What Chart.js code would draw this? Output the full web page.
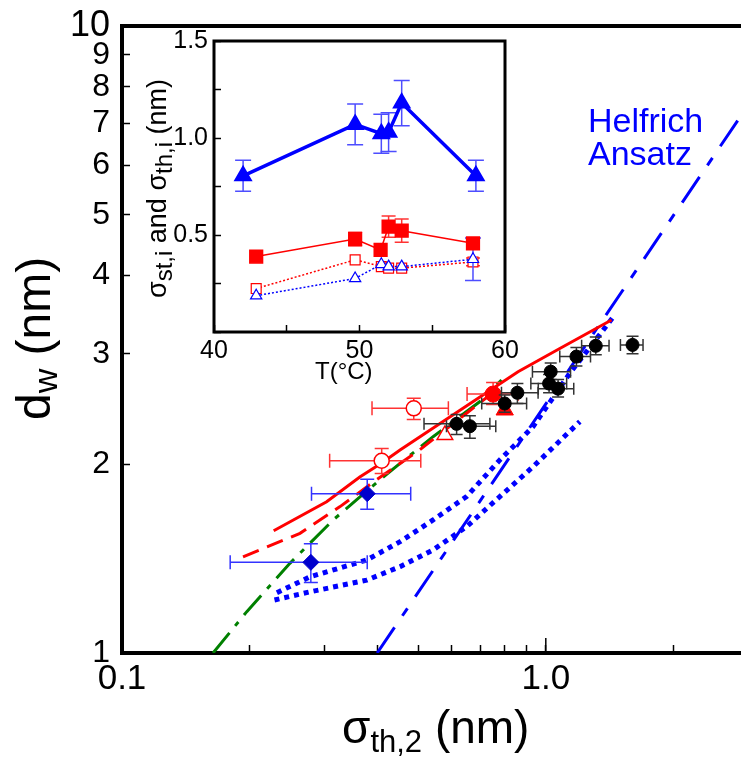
<!DOCTYPE html>
<html>
<head>
<meta charset="utf-8">
<script src="https://cdn.jsdelivr.net/npm/chart.js@4"></script>
<style>
body { margin:0; background:#fff; overflow:hidden; width:741px; height:757px; position:relative; }
#main { position:absolute; left:0; top:0; }
#inset { position:absolute; left:130px; top:0; }
</style>
</head>
<body>
<canvas id="main" width="760" height="757"></canvas>
<canvas id="inset" width="400" height="420"></canvas>
<script>
// ---- main panel: d_w vs sigma_th,2 (log-log) ----
const xTickVals = [0.1, 0.2, 0.3, 0.4, 0.5, 0.6, 0.7, 0.8, 0.9, 1, 2, 3];
const xTickLabels = ['0.1', '', '', '', '', '', '', '', '', '1.0', '', ''];
const yTickVals = [1, 2, 3, 4, 5, 6, 7, 8, 9, 10];
const yTickLabels = ['1', '2', '3', '4', '5', '6', '7', '8', '9', '10'];

const blackX   = [0.616, 0.662, 0.800, 0.857, 1.027, 1.018, 1.069, 1.181, 1.312, 1.602];
const blackY   = [2.32, 2.30, 2.50, 2.60, 2.81, 2.69, 2.64, 2.97, 3.09, 3.10];
const blackXLo = [0.516, 0.583, 0.706, 0.786, 0.930, 0.922, 0.960, 1.079, 1.215, 1.500];
const blackXHi = [0.738, 0.762, 0.901, 0.959, 1.144, 1.120, 1.164, 1.275, 1.410, 1.696];
const blackYLo = [2.23, 2.20, 2.42, 2.50, 2.73, 2.60, 2.56, 2.87, 2.99, 3.00];
const blackYHi = [2.40, 2.39, 2.58, 2.69, 2.90, 2.78, 2.73, 3.07, 3.19, 3.20];

const diamX   = [0.279, 0.379];
const diamY   = [1.395, 1.795];
const diamXLo = [0.180, 0.280];
const diamXHi = [0.379, 0.480];
const diamYLo = [1.295, 1.695];
const diamYHi = [1.494, 1.892];

const openCircX   = [0.410, 0.488];
const openCircY   = [2.026, 2.456];
const openCircXLo = [0.309, 0.389];
const openCircXHi = [0.507, 0.589];
const openCircYLo = [1.934, 2.358];
const openCircYHi = [2.120, 2.548];

const redCircX = [0.751], redCircY = [2.588];
const redCircXLo = [0.652], redCircXHi = [0.86], redCircYLo = [2.49], redCircYHi = [2.70];
const redTriX = [0.800], redTriY = [2.441];
const openTriX = [0.578], openTriY = [2.227];

const redSolidX = [0.228, 0.304, 0.364, 0.410, 0.453, 0.860, 1.079, 1.429];
const redSolidY = [1.567, 1.743, 1.909, 2.010, 2.108, 2.810, 3.060, 3.397];
const redDashX  = [0.193, 0.263, 0.327, 0.398, 0.504, 0.650, 0.738];
const redDashY  = [1.423, 1.552, 1.712, 1.888, 2.108, 2.412, 2.579];
const greenX    = [0.164, 0.197, 0.249, 0.315, 0.410, 0.542, 0.698, 0.786];
const greenY    = [1.000, 1.164, 1.390, 1.630, 1.900, 2.213, 2.516, 2.725];
const dotUpX    = [0.232, 0.278, 0.378, 0.453, 0.542, 0.650, 0.779, 0.933, 1.139, 1.455];
const dotUpY    = [1.248, 1.323, 1.407, 1.505, 1.630, 1.776, 2.032, 2.296, 2.793, 3.460];
const dotLowX   = [0.229, 0.278, 0.378, 0.453, 0.542, 0.650, 0.779, 0.933, 1.203];
const dotLowY   = [1.215, 1.252, 1.307, 1.373, 1.460, 1.590, 1.776, 1.982, 2.339];
const helfrichX = [0.40, 2.85];
const helfrichY = [1.00, 7.10];

// ---- inset: sigma vs T ----
const insetXTicks = [40, 45, 50, 55, 60];
const insetXLabels = ['40', '', '50', '', '60'];
const insetYTicks = [0, 0.25, 0.5, 0.75, 1.0, 1.25, 1.5];
const insetYLabels = ['', '', '0.5', '', '1.0', '', '1.5'];

const thT   = [42.0, 49.7, 51.5, 52.0, 52.9, 58.0];
const thY   = [0.805, 1.07, 1.022, 1.03, 1.18, 0.805];
const thErr = [0.08, 0.105, 0.10, 0.10, 0.117, 0.08];
const stT   = [42.9, 49.7, 51.45, 52.0, 52.9, 57.8];
const stY   = [0.389, 0.479, 0.423, 0.543, 0.522, 0.457];
const stErr = [0, 0.035, 0, 0.055, 0.06, 0.025];
const stOpenT = [42.9, 49.7, 51.5, 52.0, 52.9, 57.8];
const stOpenY = [0.224, 0.372, 0.337, 0.329, 0.329, 0.361];
const stOpenErr = [0, 0, 0, 0, 0, 0.02];
const thOpenT = [42.9, 49.7, 51.5, 52.0, 52.9, 57.8];
const thOpenY = [0.187, 0.276, 0.349, 0.337, 0.337, 0.375];
const thOpenErr = [0, 0, 0, 0, 0, 0.11];

const FONT = '"Liberation Sans", Arial, sans-serif';

function pts(xs, ys) {
    return xs.map((x, i) => ({x: x, y: ys[i]}));
}

// keep the chart area where we put it: no extra room for edge labels
function fixSize(s, w, h) {
    if (w) s.width = w;
    if (h) s.height = h;
    s.paddingTop = 0; s.paddingBottom = 0;
    s.paddingLeft = 0; s.paddingRight = 0;
}

// error bars drawn just before their own dataset
const errorBars = {
    id: 'errorBars',
    beforeDatasetDraw(chart, args) {
        const ds = chart.data.datasets[args.index];
        if (!ds.err) return;
        const e = ds.err, ctx = chart.ctx;
        const xs = chart.scales.x, ys = chart.scales.y;
        ctx.save();
        ctx.strokeStyle = e.color;
        ctx.lineWidth = e.width;
        ds.data.forEach((p, j) => {
            const px = xs.getPixelForValue(p.x), py = ys.getPixelForValue(p.y);
            ctx.beginPath();
            if (e.xLo) {
                const a = xs.getPixelForValue(e.xLo[j]), b = xs.getPixelForValue(e.xHi[j]);
                ctx.moveTo(a, py); ctx.lineTo(b, py);
                ctx.moveTo(a, py - e.cap); ctx.lineTo(a, py + e.cap);
                ctx.moveTo(b, py - e.cap); ctx.lineTo(b, py + e.cap);
            }
            if (e.yLo && e.yHi[j] > e.yLo[j]) {
                const a = ys.getPixelForValue(e.yLo[j]), b = ys.getPixelForValue(e.yHi[j]);
                ctx.moveTo(px, a); ctx.lineTo(px, b);
                ctx.moveTo(px - e.cap, a); ctx.lineTo(px + e.cap, a);
                ctx.moveTo(px - e.cap, b); ctx.lineTo(px + e.cap, b);
            }
            ctx.stroke();
        });
        ctx.restore();
    }
};

function drawRich(ctx, parts, x, y, rot) {
    ctx.save();
    ctx.translate(x, y);
    if (rot) ctx.rotate(rot);
    ctx.textBaseline = 'alphabetic';
    ctx.textAlign = 'left';
    let cx = 0;
    parts.forEach(p => {
        ctx.font = p.size + 'px ' + FONT;
        ctx.fillText(p.t, cx, p.dy || 0);
        cx += ctx.measureText(p.t).width;
    });
    ctx.restore();
}

const mainDecor = {
    id: 'mainDecor',
    afterDraw(chart) {
        const ctx = chart.ctx, a = chart.chartArea;
        ctx.save();
        ctx.strokeStyle = '#000';
        ctx.lineWidth = 4;
        ctx.beginPath();
        ctx.moveTo(a.left - 2, a.top);
        ctx.lineTo(a.right, a.top);
        ctx.stroke();
        // longer tick at 1.0
        const p1 = chart.scales.x.getPixelForValue(1);
        ctx.lineWidth = 1.5;
        ctx.beginPath();
        ctx.moveTo(p1, a.bottom);
        ctx.lineTo(p1, a.bottom - 15);
        ctx.stroke();
        ctx.fillStyle = '#000';
        drawRich(ctx, [{t: 'd', size: 48}, {t: 'w', size: 34, dy: 7}, {t: ' (nm)', size: 48}], 50, 420, -Math.PI / 2);
        drawRich(ctx, [{t: 'σ', size: 46}, {t: 'th,2', size: 31, dy: 9}, {t: ' (nm)', size: 46}], 342, 743);
        ctx.fillStyle = '#0000ff';
        ctx.font = '34px ' + FONT;
        ctx.fillText('Helfrich', 588, 132);
        ctx.fillText('Ansatz', 588, 165);
        ctx.restore();
    }
};

const insetDecor = {
    id: 'insetDecor',
    afterDraw(chart) {
        const ctx = chart.ctx, a = chart.chartArea;
        ctx.save();
        ctx.strokeStyle = '#000';
        ctx.lineWidth = 3;
        ctx.strokeRect(a.left, a.top, a.right - a.left, a.bottom - a.top);
        ctx.fillStyle = '#000';
        drawRich(ctx, [{t: 'σ', size: 27}, {t: 'st,i', size: 24, dy: 6}, {t: ' and ', size: 27},
                       {t: 'σ', size: 27}, {t: 'th,i', size: 24, dy: 6}, {t: ' (nm)', size: 27}], 36, 298, -Math.PI / 2);
        ctx.font = '24px ' + FONT;
        ctx.fillText('T(°C)', 185, 379);
        ctx.restore();
    }
};

function lineSet(xs, ys, color, width, dash) {
    return {data: pts(xs, ys), showLine: true, borderColor: color, borderWidth: width,
            borderDash: dash, borderCapStyle: 'butt', pointRadius: 0, fill: false};
}

new Chart(document.getElementById('main'), {
    type: 'scatter',
    data: {
        datasets: [
            {data: pts(blackX, blackY), pointRadius: 6.5, backgroundColor: '#000', borderColor: '#000',
             err: {xLo: blackXLo, xHi: blackXHi, yLo: blackYLo, yHi: blackYHi, color: '#333', width: 1.5, cap: 6}},
            {data: pts(redTriX, redTriY), pointStyle: 'triangle', pointRadius: 10, backgroundColor: '#ff0000', borderColor: '#ff0000'},
            {data: pts(redCircX, redCircY), pointRadius: 8, backgroundColor: '#ff0000', borderColor: '#ff0000',
             err: {xLo: redCircXLo, xHi: redCircXHi, yLo: redCircYLo, yHi: redCircYHi, color: '#ff3333', width: 1.5, cap: 7}},
            {data: pts(openTriX, openTriY), pointStyle: 'triangle', pointRadius: 9, backgroundColor: '#fff', borderColor: '#ff0000', borderWidth: 1.5},
            {data: pts(openCircX, openCircY), pointRadius: 7.5, backgroundColor: '#fff', borderColor: '#ff0000', borderWidth: 1.5,
             err: {xLo: openCircXLo, xHi: openCircXHi, yLo: openCircYLo, yHi: openCircYHi, color: '#ff3333', width: 1.5, cap: 7}},
            {data: pts(diamX, diamY), pointStyle: 'rectRot', pointRadius: 8, backgroundColor: '#0000cc', borderColor: '#0000cc',
             err: {xLo: diamXLo, xHi: diamXHi, yLo: diamYLo, yHi: diamYHi, color: '#3333ff', width: 1.5, cap: 7}},
            lineSet(redSolidX, redSolidY, '#ff0000', 3, []),
            lineSet(redDashX, redDashY, '#ff0000', 3, [17, 9]),
            lineSet(greenX, greenY, '#008000', 3, [26, 9, 5, 9]),
            lineSet(dotUpX, dotUpY, '#0000ff', 5, [5, 5]),
            lineSet(dotLowX, dotLowY, '#0000ff', 5, [5, 5]),
            lineSet(helfrichX, helfrichY, '#0000ff', 3, [31, 14, 9, 14])
        ]
    },
    options: {
        responsive: false,
        animation: false,
        events: [],
        layout: {padding: {left: 0, top: 26, right: 12, bottom: 0}},
        plugins: {legend: {display: false}, tooltip: {enabled: false}},
        scales: {
            x: {
                type: 'logarithmic', min: 0.1, max: 3,
                afterBuildTicks: s => { s.ticks = xTickVals.map(v => ({value: v})); },
                afterFit: s => fixSize(s, 0, 104),
                border: {display: true, width: 4, color: '#000'},
                grid: {drawOnChartArea: false, tickLength: -8, tickWidth: 1.5, tickColor: '#000'},
                ticks: {autoSkip: false, maxRotation: 0, padding: 13, color: '#000',
                        font: {family: FONT, size: 35},
                        callback: v => xTickLabels[xTickVals.indexOf(v)]}
            },
            y: {
                type: 'logarithmic', min: 1, max: 10,
                afterBuildTicks: s => { s.ticks = yTickVals.map(v => ({value: v})); },
                afterFit: s => fixSize(s, 122, 0),
                border: {display: true, width: 4, color: '#000'},
                grid: {drawOnChartArea: false, tickLength: -8, tickWidth: 1.5, tickColor: '#000'},
                ticks: {autoSkip: false, padding: 20, color: '#000',
                        font: c => ({family: FONT, size: c.tick && c.tick.value === 10 ? 36 : 32}),
                        callback: v => yTickLabels[yTickVals.indexOf(v)]}
            }
        }
    },
    plugins: [errorBars, mainDecor]
});

new Chart(document.getElementById('inset'), {
    type: 'scatter',
    data: {
        datasets: [
            {data: pts(thT, thY), showLine: true, borderColor: '#0000ff', borderWidth: 3.5, pointStyle: 'triangle',
             pointRadius: 7.5, pointBackgroundColor: '#0000ff', pointBorderColor: '#0000ff',
             err: {yLo: thY.map((v, i) => v - thErr[i]), yHi: thY.map((v, i) => v + thErr[i]), color: '#4d4dff', width: 1.5, cap: 8}},
            {data: pts(stT, stY), showLine: true, borderColor: '#ff0000', borderWidth: 1.5, pointStyle: 'rect',
             pointRadius: 9, pointBackgroundColor: '#ff0000', pointBorderColor: '#ff0000',
             err: {yLo: stY.map((v, i) => v - stErr[i]), yHi: stY.map((v, i) => v + stErr[i]), color: '#ff3333', width: 1.5, cap: 7}},
            {data: pts(thOpenT, thOpenY), showLine: true, borderColor: '#0000ff', borderWidth: 1.5, borderDash: [2, 2],
             pointStyle: 'triangle', pointRadius: 6.5, pointBackgroundColor: '#fff', pointBorderColor: '#0000ff', pointBorderWidth: 1.2,
             err: {yLo: thOpenY.map((v, i) => v - thOpenErr[i]), yHi: thOpenY.map((v, i) => v + thOpenErr[i]), color: '#4d4dff', width: 1.5, cap: 8}},
            {data: pts(stOpenT, stOpenY), showLine: true, borderColor: '#ff0000', borderWidth: 1.5, borderDash: [2, 2],
             pointStyle: 'rect', pointRadius: 7, pointBackgroundColor: '#fff', pointBorderColor: '#ff0000', pointBorderWidth: 1.2,
             err: {yLo: stOpenY.map((v, i) => v - stOpenErr[i]), yHi: stOpenY.map((v, i) => v + stOpenErr[i]), color: '#ff3333', width: 1.5, cap: 7}}
        ]
    },
    options: {
        responsive: false,
        animation: false,
        events: [],
        layout: {padding: {left: 0, top: 41, right: 25, bottom: 0}},
        plugins: {legend: {display: false}, tooltip: {enabled: false}},
        scales: {
            x: {
                type: 'linear', min: 40, max: 60,
                afterBuildTicks: s => { s.ticks = insetXTicks.map(v => ({value: v})); },
                afterFit: s => fixSize(s, 0, 88),
                border: {display: false},
                grid: {drawOnChartArea: false, tickLength: -7, tickWidth: 1.5, tickColor: '#000'},
                ticks: {autoSkip: false, maxRotation: 0, padding: 11, color: '#000',
                        font: {family: FONT, size: 25},
                        callback: v => insetXLabels[insetXTicks.indexOf(v)]}
            },
            y: {
                type: 'linear', min: 0, max: 1.5,
                afterBuildTicks: s => { s.ticks = insetYTicks.map(v => ({value: v})); },
                afterFit: s => fixSize(s, 84, 0),
                border: {display: false},
                grid: {drawOnChartArea: false, tickLength: -7, tickWidth: 1.5, tickColor: '#000'},
                ticks: {autoSkip: false, padding: 13, color: '#000',
                        font: {family: FONT, size: 25},
                        callback: v => insetYLabels[insetYTicks.indexOf(v)]}
            }
        }
    },
    plugins: [errorBars, insetDecor]
});
</script>
</body>
</html>
